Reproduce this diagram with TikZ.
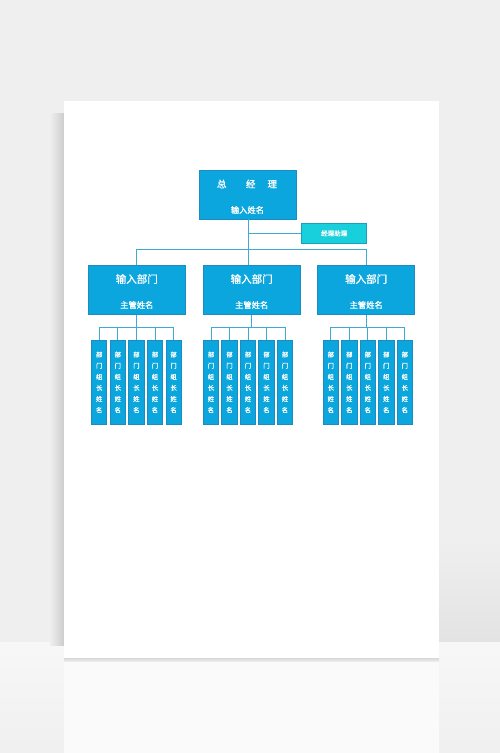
\documentclass[tikz,border=0pt]{standalone}
\usepackage{fontspec}
\newfontfamily\cjk{Noto Sans CJK SC}[FakeBold=1.2]
\usetikzlibrary{positioning,calc}
\definecolor{boxfill}{HTML}{0BA6DE}
\definecolor{boxline}{HTML}{1E8CC0}
\definecolor{linkc}{HTML}{3FA9D5}
\definecolor{asstfill}{HTML}{18D0DC}
\definecolor{asstline}{HTML}{1AA0BE}
\definecolor{backc}{HTML}{EFEFEF}
\tikzset{
  bluebox/.style={draw=boxline, fill=boxfill, line width=0.8pt, inner sep=0pt},
  mainbox/.style={bluebox, minimum width=97pt, minimum height=49pt},
  deptbox/.style={bluebox, minimum width=97pt, minimum height=48.5pt},
  childbox/.style={bluebox, minimum width=15.3pt, minimum height=84pt, align=center,
    text=white, font=\cjk\fontsize{6.3}{11.1}\selectfont},
  asstbox/.style={draw=asstline, fill=asstfill, line width=0.8pt, minimum width=65pt, minimum height=20pt,
    inner sep=0pt, text=white, font=\cjk\fontsize{6.5}{7}\selectfont},
  wtext/.style={text=white, inner sep=0pt},
  link/.style={draw=linkc, line width=0.9pt}
}
\newcommand{\childtxt}{部\\门\\组\\长\\姓\\名}
\begin{document}
\begin{tikzpicture}[x=1pt,y=-1pt]
\useasboundingbox (0,0) rectangle (500,753);
% backdrop
\fill[backc] (0,0) rectangle (500,642);
\shade[top color=backc, bottom color=white!89!black] (380,540) rectangle (500,642);
\shade[top color=white!97!black, bottom color=white!94!black] (0,642) rectangle (500,753);
\shade[left color=backc, right color=white!80!black] (50,113) rectangle (64,645);
\shade[top color=white!82!black, bottom color=white!95!black] (64,657) rectangle (439,662);
\fill[white] (64,100.7) rectangle (439,658);
\fill[white!98!black] (64,662) rectangle (439,753);

% top level
\node[mainbox] (main) at (247.7,194.5) {};
\node[wtext, font=\cjk\fontsize{9.5}{10}\selectfont] (mainT) at (247,184) {总\hspace{19.5pt}经\hspace{12pt}理};
\node[wtext, font=\cjk\fontsize{8.3}{9}\selectfont] (mainN) at (247.5,210) {输入姓名};

\node[asstbox] (asst) at (334.2,233.3) {经理助理};

% departments
\node[deptbox] (d1) at (136.8,290) {};
\node[deptbox] (d2) at (251.7,290) {};
\node[deptbox] (d3) at (366.2,290) {};
\foreach \d in {d1,d2,d3}{
  \node[wtext, font=\cjk\fontsize{10.5}{11}\selectfont] (\d T) at ($(\d.center)+(0,-11)$) {输入部门};
  \node[wtext, font=\cjk\fontsize{8.3}{9}\selectfont] (\d N) at ($(\d.center)+(0,15)$) {主管姓名};
}

% children
\foreach \k in {1,...,5}{
  \node[childbox] (a\k) at ({99.2+18.6*(\k-1)},382.3) {\childtxt};
  \node[childbox] (b\k) at ({211+18.5*(\k-1)},382.3) {\childtxt};
  \node[childbox] (c\k) at ({330.8+18.5*(\k-1)},382.3) {\childtxt};
}

% connectors
\coordinate (topbar) at (248.5,249.3);
\coordinate (asstjoin) at (248.5,233.3);
\draw[link] (main.south -| topbar) -- (topbar |- d2.north);
\draw[link] (asstjoin) -- (asst.west);
\draw[link] (d1.north) |- (topbar) -| (d3.north);

\coordinate (cbar) at (0,327.7);
\foreach \d/\c in {d1/a,d2/b,d3/c}{
  \draw[link] (\d.south) -- (\d.south |- cbar);
  \draw[link] (\c1.north) |- (\c3.north |- cbar) -| (\c5.north);
  \foreach \k in {2,3,4}{
    \draw[link] (\c\k.north) -- (\c\k.north |- cbar);
  }
}
\end{tikzpicture}
\end{document}
